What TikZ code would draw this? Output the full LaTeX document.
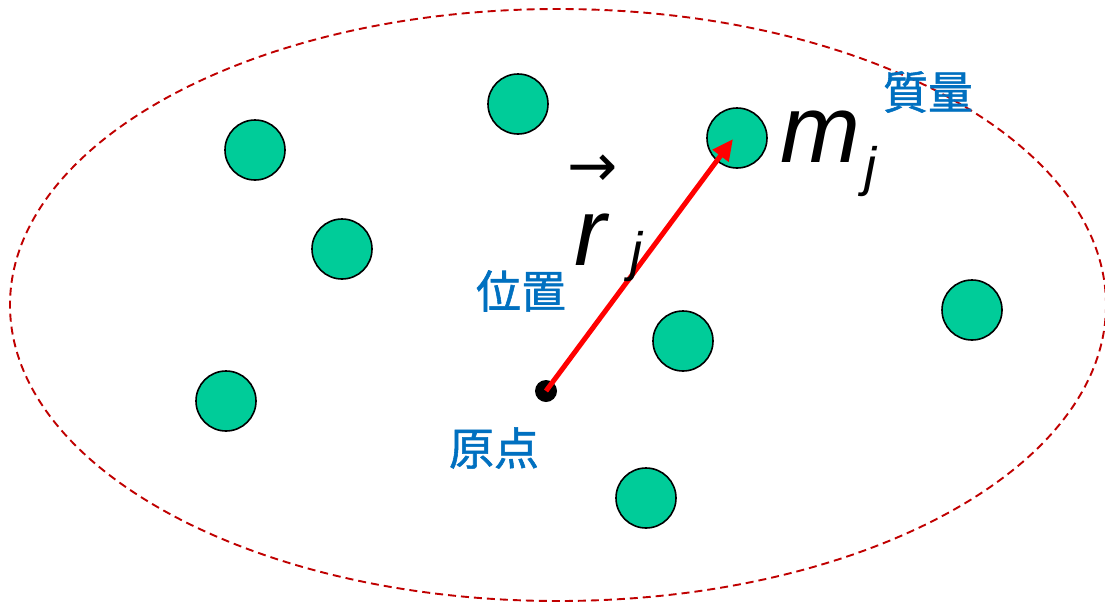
\documentclass[tikz,border=0pt]{standalone}
\usepackage{fontspec}
\setmainfont{Liberation Sans}
\newfontfamily\jpfont[FakeBold=1.2]{Noto Sans CJK JP}
\newfontfamily\symfont{DejaVu Sans}
\usetikzlibrary{arrows.meta}
\definecolor{massgreen}{RGB}{0,204,153}
\definecolor{labelblue}{RGB}{0,112,192}
\definecolor{boundred}{RGB}{192,0,0}
\tikzset{
  mass/.style={circle, draw=black, line width=1.6pt, fill=massgreen, minimum size=60pt, inner sep=0pt},
  jplabel/.style={text=labelblue, font=\jpfont\fontsize{45}{45}\selectfont, inner sep=0pt},
  bigsym/.style={font=\fontsize{96}{96}\selectfont\itshape, inner sep=0pt},
  subsym/.style={font=\fontsize{54}{54}\selectfont\itshape, inner sep=0pt},
  boundary/.style={draw=boundred, line width=1.9pt, dash pattern=on 8pt off 5pt},
  posvec/.style={draw=red, line width=5pt, -{Triangle[length=21pt,width=19pt]}}
}
\begin{document}
\begin{tikzpicture}[x=1pt,y=-1pt]
\useasboundingbox (0,0) rectangle (1105,603);
\fill[white] (0,0) rectangle (1105,603);
\draw[boundary] (558,305) ellipse [x radius=548, y radius=296];
\node[mass] (m1) at (255,150) {};
\node[mass] (m2) at (518,104) {};
\node[mass] (mj) at (737,138) {};
\node[mass] (m4) at (342,249) {};
\node[mass] (m5) at (683,341) {};
\node[mass] (m6) at (972,310) {};
\node[mass] (m7) at (226,401) {};
\node[mass] (m8) at (646,498) {};
\node[circle, fill=black, minimum size=22pt, inner sep=0pt] (o) at (546,391) {};
\coordinate (tip) at (733,139);
\draw[posvec] (o.center) -- (tip);
\node[jplabel] (pos) at (521,291) {位置};
\node[jplabel] (orig) at (494,448) {原点};
\node[jplabel] (mass) at (928,92) {質量};
\node[bigsym, anchor=base west] (m) at (780,162) {m};
\node[subsym, anchor=base west] (mjsub) at (864,185) {j};
\node[bigsym, anchor=base west] (r) at (574,265) {r};
\node[subsym, anchor=base west] (rjsub) at (630,270) {j};
\node[font=\symfont\fontsize{60}{60}\selectfont, inner sep=0pt] (vec) at (593,171) {→};
\end{tikzpicture}
\end{document}
